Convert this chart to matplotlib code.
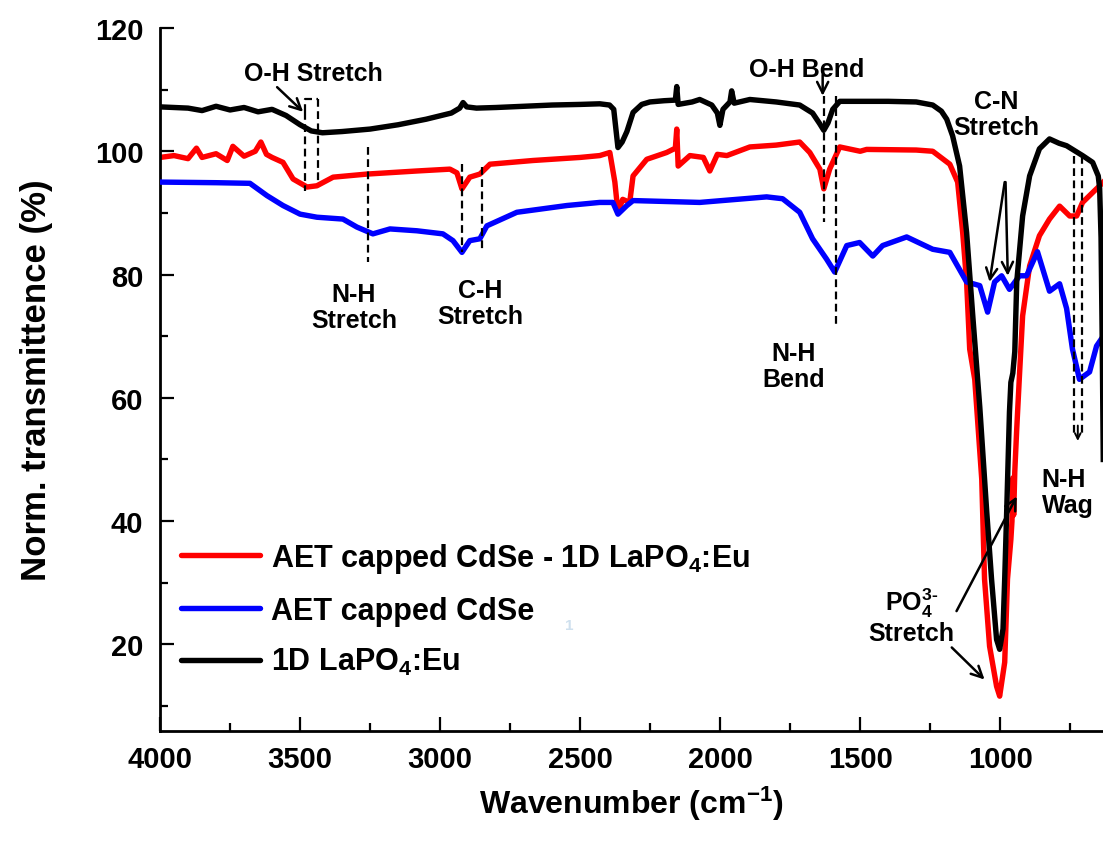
import matplotlib
matplotlib.use("Agg")
import matplotlib.pyplot as plt
from matplotlib.lines import Line2D

plt.rcParams["font.family"] = ["Liberation Sans", "DejaVu Sans"]
plt.rcParams["font.weight"] = "bold"
plt.rcParams["mathtext.fontset"] = "custom"
plt.rcParams["mathtext.rm"] = "Liberation Sans:bold"
plt.rcParams["mathtext.bf"] = "Liberation Sans:bold"
plt.rcParams["mathtext.default"] = "bf"

# ---- data (wavenumber in cm-1, transmittance in %) ----
black_wn = [4000, 3900, 3850, 3800, 3750, 3700, 3650, 3600, 3550, 3500, 3460, 3420,
            3350, 3250, 3150, 3050, 2960, 2930, 2918, 2905, 2870, 2800, 2700, 2600,
            2500, 2430, 2395, 2380, 2365, 2350, 2333, 2311, 2280, 2251, 2200, 2160,
            2155, 2150, 2100, 2073, 2030, 2010, 2001, 1990, 1965, 1959, 1950, 1894,
            1800, 1716, 1670, 1645, 1630, 1615, 1598, 1573, 1500, 1400, 1300, 1241,
            1210, 1191, 1170, 1145, 1120, 1098, 1073, 1048, 1031, 1013, 1002, 990,
            984, 977, 967, 962, 955, 948, 941, 920, 895, 860, 824, 790, 763, 706,
            670, 650, 645, 640, 636, 632]
black_t = [107.2, 107.0, 106.6, 107.3, 106.7, 107.1, 106.4, 106.8, 105.8, 104.3, 103.3, 103.0,
           103.2, 103.6, 104.3, 105.2, 106.2, 107.0, 107.9, 107.2, 107.0, 107.1, 107.3, 107.5,
           107.6, 107.7, 107.5, 106.8, 100.6, 101.5, 103.2, 106.3, 107.6, 108.0, 108.2, 108.3,
           110.5, 107.6, 108.0, 108.4, 107.5, 106.2, 104.2, 106.8, 108.0, 109.8, 107.8, 108.4,
           108.0, 107.5, 106.2, 104.5, 103.4, 104.6, 106.8, 108.1, 108.1, 108.1, 108.0, 107.5,
           106.5, 105.2, 102.5, 97.6, 86.8, 73.3, 58.5, 41.4, 30.6, 20.8, 19.2, 22.5,
           30.6, 41.4, 57.7, 62.5, 64.0, 67.5, 78.8, 89.5, 96.0, 100.4, 102.0, 101.3, 100.9, 99.3,
           98.2, 96.0, 94.0, 86.0, 70.0, 50.0]

red_wn = [4000, 3950, 3900, 3870, 3850, 3800, 3760, 3740, 3700, 3660, 3640, 3620,
          3600, 3561, 3525, 3475, 3440, 3382, 3261, 3083, 2965, 2940, 2922, 2894,
          2858, 2822, 2669, 2500, 2430, 2394, 2376, 2365, 2348, 2323, 2311, 2262,
          2191, 2160, 2155, 2150, 2108, 2060, 2037, 2010, 1976, 1894, 1800, 1716,
          1680, 1644, 1630, 1609, 1573, 1500, 1477, 1300, 1241, 1180, 1152, 1134,
          1120, 1109, 1091, 1066, 1056, 1038, 1013, 1002, 984, 974, 962, 958,
          955, 952, 948, 941, 932, 920, 895, 860, 824, 788, 752, 727, 706, 670,
          645, 632]
red_t = [99.0, 99.3, 98.8, 100.5, 99.0, 99.6, 98.5, 100.8, 99.2, 100.0, 101.5, 99.5,
         99.0, 98.2, 95.5, 94.2, 94.4, 95.8, 96.3, 96.8, 97.1, 96.5, 93.9, 95.8,
         96.3, 97.9, 98.5, 99.0, 99.3, 99.8, 95.0, 90.1, 92.2, 91.7, 96.0, 98.7,
         99.8, 100.5, 103.6, 97.6, 99.3, 99.0, 96.8, 99.5, 99.3, 100.7, 101.0, 101.5,
         99.8, 97.1, 93.9, 97.1, 100.7, 100.0, 100.3, 100.2, 100.0, 97.9, 95.0, 86.8,
         78.8, 67.9, 63.0, 46.8, 30.6, 19.7, 13.2, 11.6, 17.1, 30.6, 37.0, 40.0,
         47.0, 41.0, 48.0, 55.0, 63.0, 73.3, 81.4, 86.3, 89.0, 91.1, 89.5, 89.5, 91.7, 93.3,
         94.4, 95.0]

blue_wn = [4000, 3800, 3679, 3618, 3561, 3500, 3440, 3347, 3297, 3240, 3179, 3083,
           2990, 2954, 2922, 2894, 2858, 2833, 2726, 2547, 2430, 2383, 2365, 2333,
           2311, 2073, 1834, 1777, 1716, 1670, 1620, 1591, 1548, 1502, 1455, 1420,
           1334, 1241, 1180, 1120, 1073, 1045, 1020, 995, 967, 931, 906, 867, 824,
           788, 763, 742, 717, 681, 656, 632]
blue_t = [95.0, 94.9, 94.8, 92.8, 91.2, 89.8, 89.3, 89.0, 87.7, 86.6, 87.4, 87.1,
          86.6, 85.5, 83.6, 85.5, 85.8, 87.9, 90.1, 91.2, 91.7, 91.7, 89.8, 91.2,
          92.0, 91.7, 92.6, 92.3, 90.1, 85.8, 82.5, 80.4, 84.7, 85.2, 83.0, 84.7,
          86.1, 84.1, 83.6, 78.8, 78.2, 73.9, 78.8, 79.8, 77.6, 79.8, 79.8, 83.7, 77.3,
          78.5, 74.5, 67.9, 63.0, 64.2, 68.4, 70.0]

series_labels = ["AET capped CdSe - 1D LaPO$_4$:Eu", "AET capped CdSe", "1D LaPO$_4$:Eu"]
series_colors = ["#ff0000", "#0000ff", "#000000"]

# dashed marker lines: (wavenumber, y_top, y_bottom)
marker_lines = [(3482, 106.4, 93.5), (3436, 108.5, 95.0), (3258, 100.7, 82.0),
                (2922, 97.9, 83.6), (2851, 97.4, 84.1), (1630, 109.0, 88.5),
                (1587, 109.0, 71.6), (738, 99.2, 53.6), (709, 99.2, 53.6)]

# band labels: (text, x, y, ha)
band_labels = [("O-H Stretch", 3454, 112.7, "center"),
               ("N-H\nStretch", 3308, 74.7, "center"),
               ("C-H\nStretch", 2858, 75.4, "center"),
               ("O-H Bend", 1691, 113.3, "center"),
               ("N-H\nBend", 1737, 65.1, "center"),
               ("C-N\nStretch", 1013, 106.0, "center"),
               ("N-H\nWag", 852, 44.7, "left"),
               (r"PO$_4^{3\text{-}}$" + "\nStretch", 1316, 24.7, "center")]

# arrows: (tail x, tail y, head x, head y)
band_arrows = [(3582, 110.4, 3489, 106.4), (1634, 112.4, 1634, 109.0),
               (984, 95.0, 1038, 78.8), (981, 95.0, 973, 79.8),
               (1156, 25.4, 941, 44.0), (1173, 19.5, 1056, 14.3)]

fig = plt.figure(figsize=(11.03, 8.45), dpi=100)
ax = fig.add_axes([0.1451, 0.1341, 0.8549, 0.8316])

ax.plot(red_wn, red_t, color=series_colors[0], lw=3.9, solid_joinstyle="round", zorder=2)
ax.plot(blue_wn, blue_t, color=series_colors[1], lw=3.9, solid_joinstyle="round", zorder=3)
ax.plot(black_wn, black_t, color=series_colors[2], lw=3.9, solid_joinstyle="round", zorder=4)

for x, y0, y1 in marker_lines:
    ax.plot([x, x], [y0, y1], color="black", lw=1.6, ls=(0, (3.5, 2)), zorder=5)
# little cap over the O-H stretch pair
ax.plot([3482, 3482, 3436], [106.4, 108.5, 108.5], color="black", lw=1.6,
        ls=(0, (3.5, 2)), zorder=5)

for text, x, y, ha in band_labels:
    ax.text(x, y, text, ha=ha, va="center", fontsize=18, fontweight="bold",
            linespacing=1.1, zorder=6)

for x0, y0, x1, y1 in band_arrows:
    ax.annotate("", xy=(x1, y1), xytext=(x0, y0),
                arrowprops=dict(arrowstyle="->", lw=1.8, color="black",
                                mutation_scale=20, shrinkA=0, shrinkB=0), zorder=6)
# tiny head under the N-H wag pair
ax.annotate("", xy=(723, 53.0), xytext=(723, 55.5),
            arrowprops=dict(arrowstyle="->", lw=1.4, color="black",
                            mutation_scale=10, shrinkA=0, shrinkB=0), zorder=6)

ax.set_xlim(4000, 633)
ax.set_ylim(6, 120)
ax.set_xticks([4000, 3500, 3000, 2500, 2000, 1500, 1000])
ax.set_xticks([3750, 3250, 2750, 2250, 1750, 1250, 750], minor=True)
ax.set_yticks([20, 40, 60, 80, 100, 120])
ax.set_yticks([10, 30, 50, 70, 90, 110], minor=True)

for side in ["top", "right"]:
    ax.spines[side].set_visible(False)
for side in ["left", "bottom"]:
    ax.spines[side].set_linewidth(2.0)

ax.tick_params(which="major", direction="in", length=10, width=1.6, labelsize=21)
ax.tick_params(which="minor", direction="in", length=6, width=1.6)
ax.tick_params(axis="y", pad=12)
ax.tick_params(axis="x", pad=10)
for lab in ax.get_xticklabels() + ax.get_yticklabels():
    lab.set_fontweight("bold")

ax.set_xlabel("Wavenumber (cm$^{-1}$)", fontsize=23, fontweight="bold", labelpad=8)
ax.set_ylabel("Norm. transmittence (%)", fontsize=25, fontweight="bold", labelpad=30)

handles = [Line2D([], [], color=c, lw=3.9, solid_capstyle="round") for c in series_colors]
ax.legend(handles, series_labels, loc="center left", bbox_to_anchor=(0.022, 0.173),
          frameon=False, handlelength=2.6, handletextpad=0.35,
          labelspacing=0.68, borderpad=0, borderaxespad=0,
          prop={"weight": "bold", "size": 22})

# faint stray mark next to the blue legend entry in the original
fig.text(0.512, 0.254, "1", color="#cfe0ee", fontsize=11)

fig.savefig("out.png", dpi=100)
